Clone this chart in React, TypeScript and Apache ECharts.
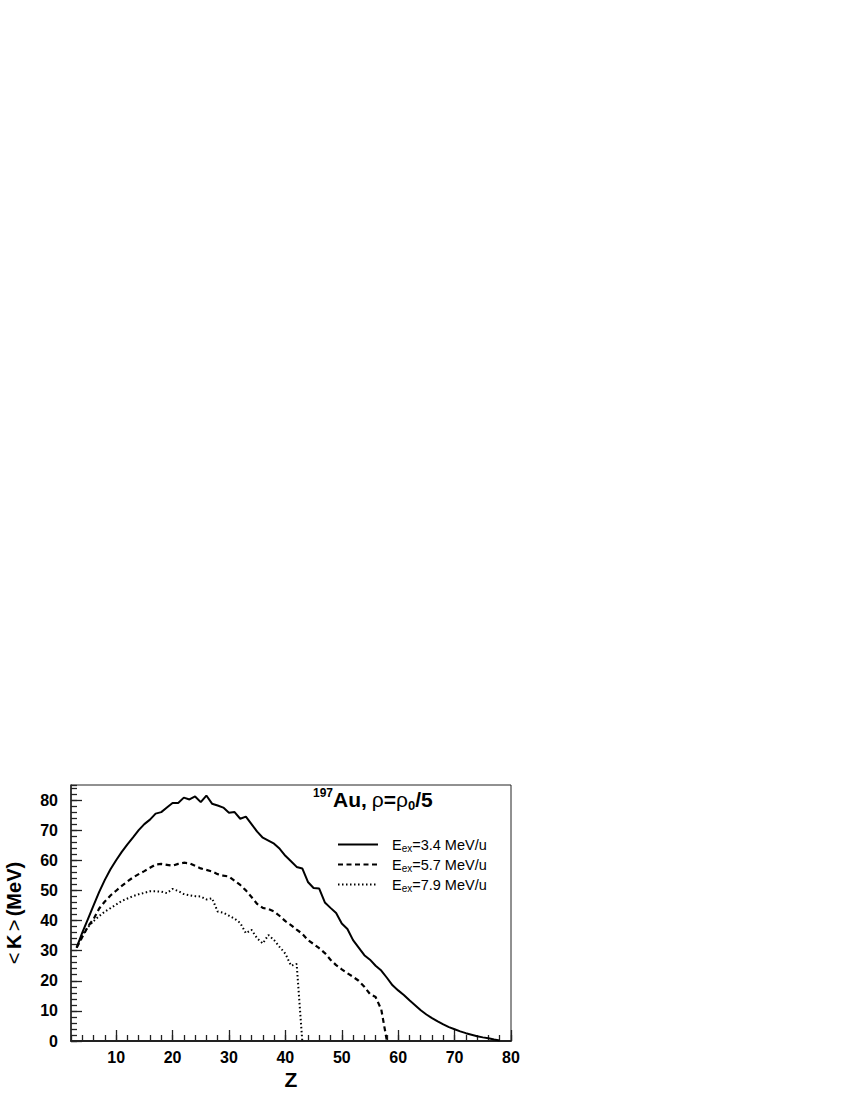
import React, { useEffect, useRef } from "react";
import * as echarts from "echarts";

const Z_34 = [3,4,5,6,7,8,9,10,11,12,13,14,15,16,17,18,19,20,21,22,23,24,25,26,27,28,29,30,31,32,33,34,35,36,37,38,39,40,41,42,43,44,45,46,47,48,49,50,51,52,53,54,55,56,57,58,59,60,61,62,63,64,65,66,67,68,69,70,71,72,73,74,75,76,77,78];
const K_34 = [31,36,40.5,45,49.5,53.5,57,60,62.8,65.3,67.6,70,72,73.5,75.5,76,77.5,79,79,80.8,80.2,81.2,79.3,81.5,78.8,78.2,77.5,75.8,76,73.8,74.5,72,69.5,67.5,66.5,65.5,63.8,61.5,59.7,57.8,57.3,52.8,50.8,50.6,46,44.2,42.5,39,37.2,33.5,31,28.5,27,25,23.4,21,18.5,16.8,15.3,13.5,11.9,10.2,8.8,7.6,6.5,5.5,4.6,3.9,3.2,2.6,2.1,1.6,1.2,0.9,0.5,0.2];

const Z_57 = [3,4,5,6,7,8,9,10,11,12,13,14,15,16,17,18,19,20,21,22,23,24,25,26,27,28,29,30,31,32,33,34,35,36,37,38,39,40,41,42,43,44,45,46,47,48,49,50,51,52,53,54,55,56,57,58];
const K_57 = [31,34.5,38,40.5,44,46.3,48.3,49.9,51.5,53,54.3,55.4,56.4,57.5,58.6,58.8,58.5,58.2,58.8,59.2,59,58.2,57.3,56.8,56.3,55.4,54.9,54.6,53.2,51.8,50,47.8,45.5,44.2,43.8,43,41.5,39.8,38.5,37,35.6,33.5,32.2,30.8,29.2,27,25.2,23.8,22.5,21.3,20,18,15.6,14.6,10.5,0];

const Z_79 = [3,4,5,6,7,8,9,10,11,12,13,14,15,16,17,18,19,20,21,22,23,24,25,26,27,28,29,30,31,32,33,34,35,36,37,38,39,40,41,42,43];
const K_79 = [31,35.2,37.8,39.8,41.5,43,44.1,45.3,46.5,47.3,48.1,48.7,49.2,49.7,49.7,49.6,49.1,50.5,49.8,48.8,48.4,48.1,48,47,47.4,43,42.6,41.6,40.6,39.2,35.8,36.9,34.1,32.4,35.2,33.5,31.2,29,25,25.6,0];

const SERIES_NAMES = ["3.4", "5.7", "7.9"];
const X_MIN = 2, X_MAX = 80, Y_MIN = 0, Y_MAX = 85;

const FONT = "Liberation Sans, Arial, Helvetica, sans-serif";

function pairs(z: number[], k: number[]) {
  return z.map((v, i) => [v, k[i]]);
}

export default function App() {
  const ref = useRef<HTMLDivElement>(null);
  useEffect(() => {
    if (!ref.current) return;
    const chart = echarts.init(ref.current, null, { renderer: "svg" });
    const tickLabel = { fontFamily: FONT, fontSize: 16, fontWeight: "bold", color: "#000" };
    const lineBase = { type: "line", symbol: "none", showSymbol: false, xAxisIndex: 0, yAxisIndex: 0 };
    const hidden = { color: "rgba(0,0,0,0)", borderColor: "rgba(0,0,0,0)", borderWidth: 0, opacity: 0 };
    chart.setOption({
      animation: false,
      backgroundColor: "#fff",
      grid: {
        left: 71, top: 785, width: 440, height: 256, containLabel: false, outerBoundsMode: "none",
        show: true, borderColor: "#222", borderWidth: 1, backgroundColor: "transparent",
      },
      title: {
        left: 313, top: 787, padding: 0,
        text: "{sup|197}{b|Au,} {r|ρ}{b|=}{r|ρ}{sub|0}{b|/5}",
        textStyle: {
          fontWeight: "normal",
          rich: {
            sup: { fontFamily: FONT, fontSize: 12, fontWeight: "bold", verticalAlign: "top", lineHeight: 12, color: "#000" },
            b: { fontFamily: FONT, fontSize: 21, fontWeight: "bold", lineHeight: 25, verticalAlign: "middle", color: "#000" },
            r: { fontFamily: FONT, fontSize: 21, fontWeight: "normal", lineHeight: 25, verticalAlign: "middle", color: "#000" },
            sub: { fontFamily: FONT, fontSize: 13, fontWeight: "bold", verticalAlign: "bottom", lineHeight: 13, color: "#000" },
          },
        },
      },
      legend: {
        left: 337, top: 837, padding: 0, orient: "vertical",
        itemWidth: 40, itemHeight: 18, itemGap: 3.5,
        data: SERIES_NAMES,
        itemStyle: hidden,
        formatter: (name: string) => `{e|E}{s|ex}{e|=${name} MeV/u}`,
        textStyle: {
          padding: [0, 0, 0, 9],
          rich: {
            e: { fontFamily: FONT, fontSize: 14.5, lineHeight: 18, verticalAlign: "middle", color: "#000" },
            s: { fontFamily: FONT, fontSize: 10, lineHeight: 10, verticalAlign: "bottom", color: "#000" },
          },
        },
      },
      xAxis: [
        {
          type: "value", min: X_MIN, max: X_MAX, splitNumber: 8, position: "bottom",
          name: "Z", nameLocation: "middle", nameGap: 28,
          nameTextStyle: { fontFamily: FONT, fontSize: 21, fontWeight: "bold", color: "#000" },
          axisLine: { show: true, onZero: false, lineStyle: { color: "#222", width: 2 } },
          axisTick: { show: true, inside: true, length: 11, lineStyle: { color: "#222", width: 1.3 } },
          axisLabel: { ...tickLabel, margin: 8, showMinLabel: false, formatter: (v: number) => (v % 10 === 0 ? String(v) : "") },
          splitLine: { show: false },
        },
        {
          type: "value", min: X_MIN, max: X_MAX, interval: 2, position: "bottom", offset: 0,
          axisLine: { show: false, onZero: false },
          axisTick: { show: true, inside: true, length: 6, lineStyle: { color: "#222", width: 1.3 } },
          axisLabel: { show: false },
          splitLine: { show: false },
        },
      ],
      yAxis: [
        {
          type: "value", min: Y_MIN, max: Y_MAX, interval: 10, position: "left",
          name: "{a|<} {k|K} {a|>} {k|(MeV)}", nameLocation: "middle", nameGap: 47, nameRotate: 90,
          nameTextStyle: {
            rich: {
              a: { fontFamily: FONT, fontSize: 20, fontWeight: "normal", color: "#000" },
              k: { fontFamily: FONT, fontSize: 20, fontWeight: "bold", color: "#000" },
            },
          },
          axisLine: { show: true, onZero: false, lineStyle: { color: "#222", width: 1.5 } },
          axisTick: { show: true, inside: true, length: 11, lineStyle: { color: "#222", width: 1.3 } },
          axisLabel: { ...tickLabel, margin: 13, showMaxLabel: false, formatter: (v: number) => (v % 10 === 0 ? String(v) : "") },
          splitLine: { show: false },
        },
        {
          type: "value", min: Y_MIN, max: Y_MAX, interval: 2, position: "left", offset: 0,
          axisLine: { show: false, onZero: false },
          axisTick: { show: true, inside: true, length: 6, lineStyle: { color: "#222", width: 1.3 } },
          axisLabel: { show: false },
          splitLine: { show: false },
        },
      ],
      series: [
        { ...lineBase, name: SERIES_NAMES[0], data: pairs(Z_34, K_34), lineStyle: { color: "#000", width: 2, type: "solid" }, itemStyle: hidden },
        { ...lineBase, name: SERIES_NAMES[1], data: pairs(Z_57, K_57), lineStyle: { color: "#000", width: 2.2, type: [5, 3.5] }, itemStyle: hidden },
        { ...lineBase, name: SERIES_NAMES[2], data: pairs(Z_79, K_79), lineStyle: { color: "#000", width: 2, type: [1.5, 2.5] }, itemStyle: hidden },
      ],
    });
    return () => chart.dispose();
  }, []);
  return <div ref={ref} style={{ position: "absolute", left: 0, top: 0, width: 850, height: 1100, background: "#fff" }} />;
}
